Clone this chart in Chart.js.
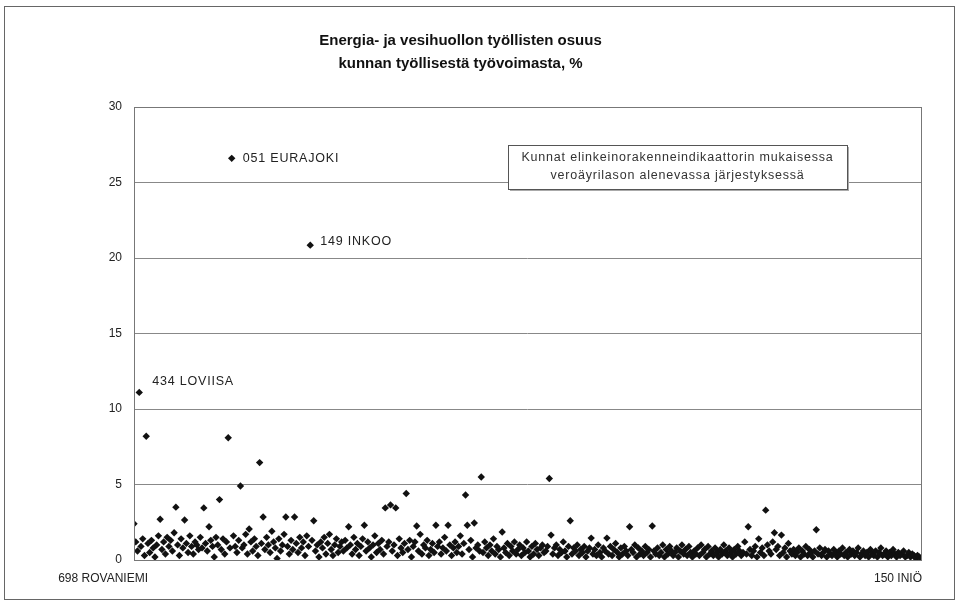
<!DOCTYPE html>
<html>
<head>
<meta charset="utf-8">
<script src="https://cdn.jsdelivr.net/npm/chart.js@4/dist/chart.umd.min.js"></script>
<style>
  html, body { margin: 0; padding: 0; background: #fff; }
  #wrap { position: relative; width: 959px; height: 606px; }
</style>
</head>
<body>
<div id="wrap"><canvas id="chart" width="959" height="606"></canvas></div>
<script>
// municipalities ordered by the structural indicator (first = 698 Rovaniemi, last = 150 Iniö)
const firstMunicipality = '698 ROVANIEMI';
const lastMunicipality = '150 INIÖ';

// share of energy & water supply employees, % of employed labour force
const shares = [
  2.4, 1.2, 0.6, 11.1, 0.9, 1.4, 0.3, 8.2, 1.1, 0.5, 1.3, 0.8, 0.2, 1.0, 1.6, 2.7, 0.7, 1.2, 0.4, 1.5,
  0.9, 1.3, 0.6, 1.8, 3.5, 1.0, 0.3, 1.4, 0.8, 2.65, 1.1, 0.5, 1.6, 0.9, 0.4, 1.2, 1.0, 0.7, 1.5, 0.8,
  3.45, 1.1, 0.6, 2.2, 1.3, 0.9, 0.2, 1.5, 1.0, 4.0, 0.7, 1.4, 0.4, 1.2, 8.1, 0.8, 26.6, 1.6, 0.9, 0.5,
  1.3, 4.9, 0.8, 1.0, 1.7, 0.4, 2.05, 1.2, 0.6, 1.4, 0.9, 0.3, 6.45, 1.1, 2.85, 0.7, 1.5, 1.0, 0.5, 1.9,
  1.2, 0.8, 0.1, 1.4, 0.6, 1.0, 1.7, 2.85, 0.9, 0.4, 1.3, 0.7, 2.85, 1.1, 0.5, 1.5, 0.8, 1.2, 0.3, 1.6,
  0.9, 20.85, 1.3, 2.6, 0.6, 1.0, 0.2, 1.2, 0.8, 1.5, 0.4, 1.1, 1.7, 0.7, 0.3, 1.0, 1.4, 0.5, 0.9, 1.2,
  0.6, 1.3, 0.8, 2.2, 1.0, 0.4, 1.5, 0.7, 1.1, 0.3, 0.9, 1.4, 2.3, 0.6, 1.2, 0.8, 0.2, 1.0, 1.6, 0.5,
  1.1, 0.7, 1.3, 0.4, 3.45, 0.9, 1.2, 3.65, 0.6, 1.0, 3.45, 0.3, 1.4, 0.8, 0.5, 1.1, 4.4, 0.7, 1.3, 0.2,
  0.9, 1.2, 2.25, 0.6, 1.7, 0.4, 1.0, 0.8, 1.3, 0.3, 0.7, 1.1, 0.5, 2.3, 0.9, 1.2, 0.4, 0.8, 1.5, 0.6,
  2.3, 1.0, 0.3, 0.8, 1.2, 0.5, 0.9, 1.6, 0.4, 1.1, 4.3, 2.3, 0.7, 1.3, 0.2, 2.45, 0.8, 1.0, 0.6, 5.5,
  0.5, 1.2, 0.8, 0.3, 1.0, 0.6, 1.4, 0.4, 0.9, 0.7, 0.2, 1.85, 0.8, 0.5, 1.1, 0.3, 0.9, 0.6, 1.2, 0.4,
  0.7, 1.0, 0.3, 0.8, 0.5, 1.2, 0.6, 0.2, 0.9, 0.4, 1.1, 0.7, 0.3, 0.8, 1.0, 0.5, 0.6, 0.9, 5.4, 1.65,
  0.4, 0.8, 1.0, 0.3, 0.7, 0.5, 1.2, 0.6, 0.2, 0.9, 2.6, 0.4, 0.8, 0.6, 1.0, 0.3, 0.7, 0.5, 0.9, 0.2,
  0.6, 0.8, 1.45, 0.4, 0.7, 0.3, 1.0, 0.5, 0.2, 0.8, 0.6, 1.45, 0.4, 0.9, 0.3, 0.7, 1.1, 0.5, 0.2, 0.8,
  0.4, 0.9, 0.6, 0.3, 2.2, 0.7, 0.5, 1.0, 0.2, 0.8, 0.4, 0.6, 0.3, 0.9, 0.5, 0.7, 0.2, 2.25, 0.6, 0.4,
  0.8, 0.3, 0.5, 1.0, 0.2, 0.7, 0.4, 0.9, 0.6, 0.3, 0.5, 0.8, 0.2, 0.6, 1.0, 0.4, 0.7, 0.3, 0.9, 0.5,
  0.2, 0.6, 0.4, 0.8, 0.3, 1.0, 0.5, 0.7, 0.2, 0.9, 0.4, 0.6, 0.3, 0.8, 0.5, 0.2, 0.7, 0.4, 1.0, 0.6,
  0.3, 0.8, 0.5, 0.2, 0.7, 0.4, 0.9, 0.6, 0.3, 0.5, 1.2, 0.4, 2.2, 0.7, 0.3, 0.6, 0.9, 0.2, 1.4, 0.5,
  0.8, 0.3, 3.3, 1.0, 0.6, 0.4, 1.2, 1.8, 0.7, 0.9, 0.3, 1.65, 0.5, 0.8, 0.2, 1.1, 0.6, 0.4, 0.7, 0.3,
  0.5, 0.8, 0.2, 0.6, 0.4, 0.9, 0.3, 0.7, 0.5, 0.2, 0.6, 2.0, 0.4, 0.8, 0.3, 0.5, 0.7, 0.2, 0.6, 0.4,
  0.3, 0.7, 0.5, 0.2, 0.6, 0.4, 0.8, 0.3, 0.5, 0.2, 0.7, 0.4, 0.6, 0.3, 0.5, 0.8, 0.2, 0.4, 0.6, 0.3,
  0.5, 0.2, 0.7, 0.4, 0.3, 0.6, 0.2, 0.5, 0.8, 0.3, 0.4, 0.6, 0.2, 0.5, 0.3, 0.7, 0.4, 0.2, 0.5, 0.3,
  0.4, 0.6, 0.2, 0.3, 0.5, 0.2, 0.4, 0.3, 0.1, 0.3, 0.2, 0.1
];

// named outliers: index in the order and label text
const labelIndexes = [3, 56, 101];
const labelTexts = ['434 LOVIISA', '051 EURAJOKI', '149 INKOO'];

const yTicks = [0, 5, 10, 15, 20, 25, 30];
const titleLines = ['Energia- ja vesihuollon työllisten osuus', 'kunnan työllisestä työvoimasta, %'];
const noteLines = ['Kunnat elinkeinorakenneindikaattorin mukaisessa', 'veroäyrilason alenevassa järjestyksessä'];

const FONT = "'Liberation Sans', Arial, sans-serif";
const labelOffsets = [[13, -11], [11, 0], [10, -4]];

const decorations = {
  id: 'decorations',
  beforeDraw(chart) {
    const ctx = chart.ctx;
    ctx.save();
    ctx.fillStyle = '#fff';
    ctx.fillRect(0, 0, chart.width, chart.height);
    ctx.strokeStyle = '#666';
    ctx.lineWidth = 1;
    ctx.strokeRect(4.5, 6.5, 950, 593);
    ctx.restore();
  },
  afterDatasetsDraw(chart) {
    const ctx = chart.ctx;
    const area = chart.chartArea;
    const x = chart.scales.x;
    const meta = chart.getDatasetMeta(0);
    ctx.save();
    // plot frame
    ctx.strokeStyle = '#777';
    ctx.lineWidth = 1;
    ctx.strokeRect(Math.round(area.left) + 0.5, Math.round(area.top) + 0.5,
      Math.round(area.right - area.left), Math.round(area.bottom - area.top));

    // point labels
    ctx.fillStyle = '#222';
    ctx.font = '12.5px ' + FONT;
    ctx.letterSpacing = '0.8px';
    ctx.textBaseline = 'middle';
    ctx.textAlign = 'left';
    labelIndexes.forEach((idx, k) => {
      const p = meta.data[idx];
      ctx.fillText(labelTexts[k], p.x + labelOffsets[k][0], p.y + labelOffsets[k][1]);
    });

    // first / last municipality
    ctx.font = '12px ' + FONT;
    ctx.letterSpacing = '0px';
    ctx.textAlign = 'right';
    ctx.textBaseline = 'top';
    ctx.fillText(firstMunicipality, x.getPixelForValue(0) + 14, area.bottom + 13);
    ctx.fillText(lastMunicipality, x.getPixelForValue(shares.length - 1) + 1, area.bottom + 13);

    // note box
    const bx = 508, by = 145, bw = 339, bh = 44;
    ctx.fillStyle = '#aaa';
    ctx.fillRect(bx + 2, by + 2, bw, bh);
    ctx.fillStyle = '#fff';
    ctx.fillRect(bx, by, bw, bh);
    ctx.strokeStyle = '#555';
    ctx.strokeRect(bx + 0.5, by + 0.5, bw, bh);
    ctx.fillStyle = '#333';
    ctx.font = '12.5px ' + FONT;
    ctx.letterSpacing = '0.8px';
    ctx.textAlign = 'center';
    ctx.textBaseline = 'middle';
    ctx.fillText(noteLines[0], bx + bw / 2, by + 13);
    ctx.fillText(noteLines[1], bx + bw / 2, by + 31);
    ctx.restore();
  }
};

new Chart(document.getElementById('chart'), {
  type: 'scatter',
  data: {
    datasets: [{
      data: shares.map((v, i) => ({ x: i, y: v })),
      pointStyle: 'rectRot',
      pointRadius: 3.7,
      backgroundColor: '#111',
      borderColor: '#111',
      borderWidth: 0
    }]
  },
  options: {
    responsive: false,
    animation: false,
    layout: { padding: { top: 6, right: 38, bottom: 38, left: 0 } },
    plugins: {
      legend: { display: false },
      tooltip: { enabled: false },
      title: {
        display: true,
        text: titleLines,
        color: '#111',
        font: { family: FONT, size: 15, weight: 'bold', lineHeight: 1.5 },
        padding: { top: 24, bottom: 32 }
      }
    },
    scales: {
      x: {
        type: 'linear',
        min: 0,
        max: shares.length - 1,
        grid: { display: false },
        border: { display: false },
        ticks: { display: false }
      },
      y: {
        min: 0,
        max: 30,
        afterBuildTicks: (s) => { s.ticks = yTicks.map(v => ({ value: v })); },
        afterFit: (s) => { s.width = 134; },
        grid: { color: '#888', lineWidth: 1, drawTicks: false },
        border: { display: false },
        ticks: { color: '#222', padding: 12, font: { family: FONT, size: 12 } }
      }
    }
  },
  plugins: [decorations]
});
</script>
</body>
</html>
